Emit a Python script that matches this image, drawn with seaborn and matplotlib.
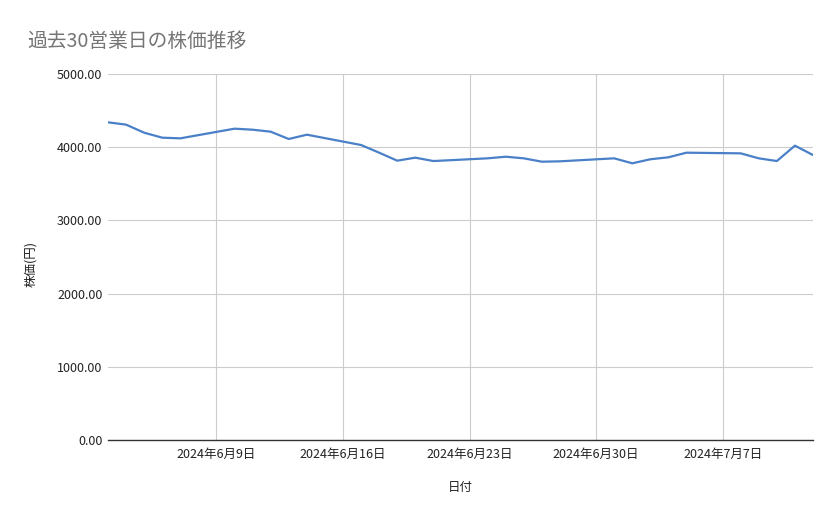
import pandas as pd
import seaborn as sns
import matplotlib.pyplot as plt
import matplotlib.dates as mdates
from matplotlib.ticker import FixedLocator, FuncFormatter

# 30 business days (weekdays only)
dates = pd.bdate_range("2024-06-03", "2024-07-12")
prices = [4340, 4308, 4198, 4130, 4121,
          4253, 4239, 4212, 4112, 4171,
          4030, 3925, 3816, 3857, 3811,
          3848, 3870, 3848, 3802, 3807,
          3848, 3780, 3835, 3862, 3925,
          3916, 3848, 3811, 4021, 3893]
tick_dates = pd.to_datetime(["2024-06-09", "2024-06-16", "2024-06-23",
                             "2024-06-30", "2024-07-07"])
y_ticks = [0, 1000, 2000, 3000, 4000, 5000]

df = pd.DataFrame({"日付": dates, "株価(円)": prices})

sns.set_theme(style="white")
plt.rcParams['font.family'] = ['Noto Sans CJK JP', 'DejaVu Sans']

fig = plt.figure(figsize=(8.39, 5.19), dpi=100)
ax = fig.add_axes([108 / 839, 1 - 440 / 519, (813 - 108) / 839, (440 - 74) / 519])

sns.lineplot(data=df, x="日付", y="株価(円)", ax=ax, color="#4A80C8", linewidth=1.6)

ax.set_xlim(dates[0], dates[-1])
ax.set_ylim(0, 5000)
ax.yaxis.set_major_locator(FixedLocator(y_ticks))
ax.yaxis.set_major_formatter(FuncFormatter(lambda v, p: f"{v:.2f}"))
ax.xaxis.set_major_locator(FixedLocator(mdates.date2num(tick_dates)))
ax.xaxis.set_major_formatter(FuncFormatter(
    lambda v, p: (lambda d: f"{d.year}年{d.month}月{d.day}日")(mdates.num2date(v))))

ax.grid(True, color="#cccccc", linewidth=0.8)
ax.set_axisbelow(True)
for s in ["top", "right", "left"]:
    ax.spines[s].set_visible(False)
ax.spines["bottom"].set_color("#333333")
ax.spines["bottom"].set_linewidth(1.0)
ax.spines["bottom"].set_zorder(3)
ax.tick_params(axis="both", length=0, labelsize=9, colors="#222222")
ax.tick_params(axis="y", pad=4)
ax.tick_params(axis="x", pad=6)

ax.set_xlabel("日付", fontsize=9, color="#222222", labelpad=14)
ax.set_ylabel("株価(円)", fontsize=9, color="#222222", labelpad=15)
ax.yaxis.set_label_coords(-0.1, 0.48)

fig.text(27 / 839, 1 - 47 / 519, "過去30営業日の株価推移", fontsize=14.2,
         color="#757575", ha="left", va="baseline")

fig.savefig("out.png", dpi=100, facecolor="white")
